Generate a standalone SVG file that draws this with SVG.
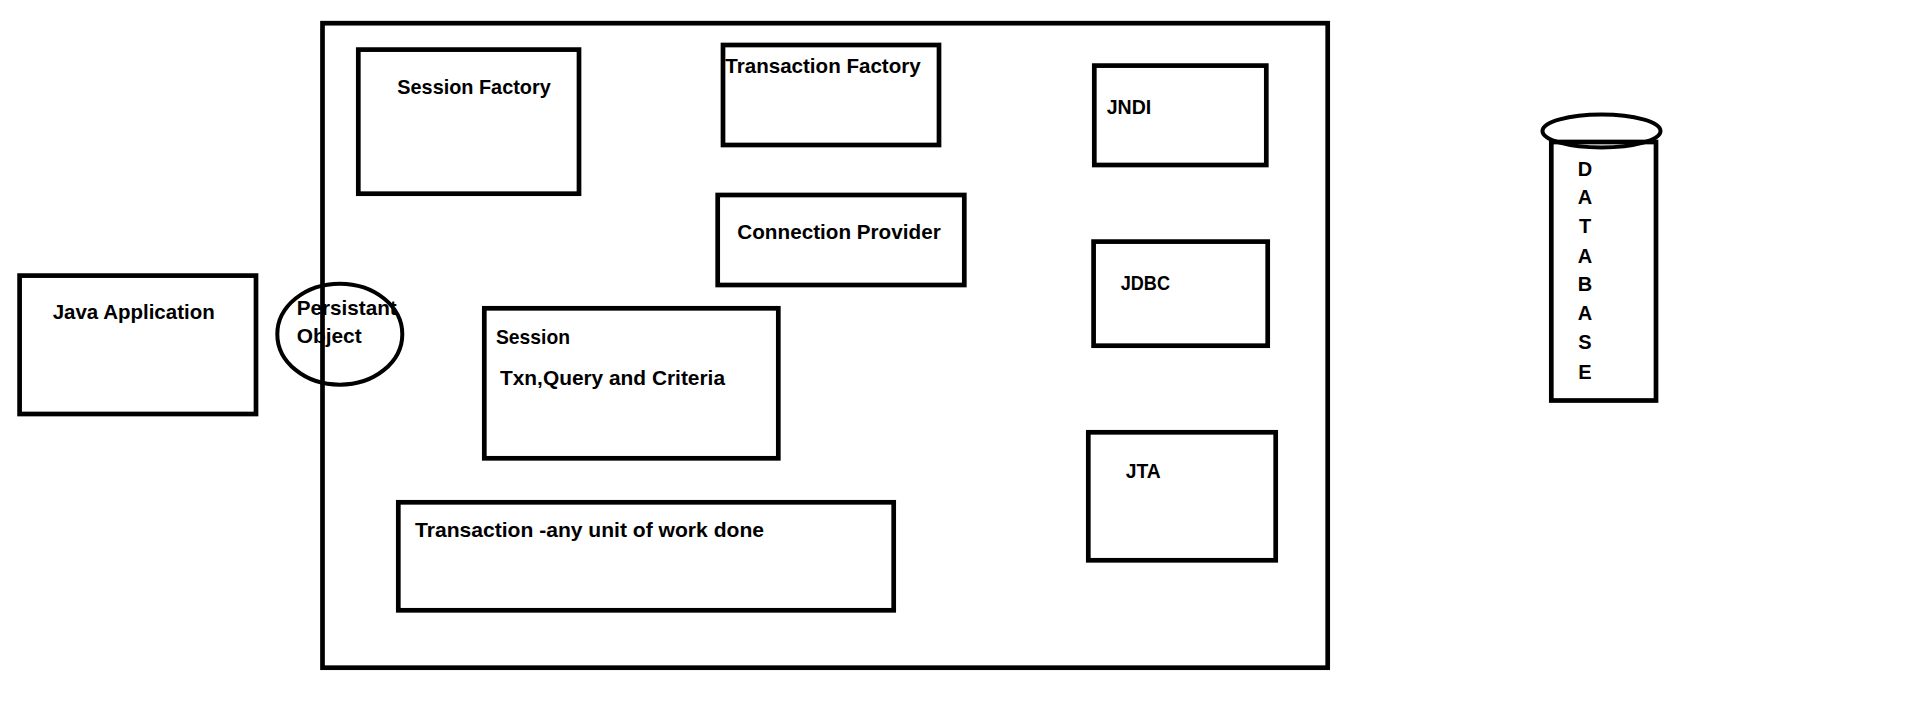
<svg xmlns="http://www.w3.org/2000/svg" width="1914" height="706" viewBox="0 0 1914 706">
<style>
.box{fill:none;stroke:#000;stroke-width:4.7}
.ring{fill:none;stroke:#000;stroke-width:4}
.lbl{font-family:"Liberation Sans",Arial,sans-serif;font-weight:bold;font-size:21px;fill:#000}
.db{font-family:"Liberation Sans",Arial,sans-serif;font-weight:bold;font-size:20px;fill:#000;text-anchor:middle}
</style>
<rect width="1914" height="706" fill="#fff"/>
<g id="java-application">
<rect class="box" x="19.6" y="275.6" width="236.4" height="138.4"/>
<text class="lbl" x="52.7" y="319.3" textLength="162" lengthAdjust="spacingAndGlyphs">Java Application</text>
</g>
<g id="persistant-object">
<text class="lbl" x="296.7" y="315" textLength="100" lengthAdjust="spacingAndGlyphs">Persistant</text>
<text class="lbl" x="296.7" y="343.3" textLength="65" lengthAdjust="spacingAndGlyphs">Object</text>
<ellipse class="ring" cx="339.8" cy="334.2" rx="62.5" ry="50.5"/>
</g>
<g id="hibernate-container">
<rect class="box" x="322.5" y="23.2" width="1005.2" height="644.5"/>
</g>
<g id="session-factory">
<rect class="box" x="358.3" y="49.6" width="220.7" height="144.1"/>
<text class="lbl" x="397.3" y="94" textLength="153.4" lengthAdjust="spacingAndGlyphs">Session Factory</text>
</g>
<g id="transaction-factory">
<rect class="box" x="723" y="45" width="216" height="100"/>
<text class="lbl" x="725.3" y="72.7" textLength="195.4" lengthAdjust="spacingAndGlyphs">Transaction Factory</text>
</g>
<g id="connection-provider">
<rect class="box" x="717.7" y="195" width="246.6" height="90"/>
<text class="lbl" x="737.3" y="239" textLength="203.4" lengthAdjust="spacingAndGlyphs">Connection Provider</text>
</g>
<g id="session">
<rect class="box" x="484.3" y="308.3" width="294" height="150"/>
<text class="lbl" x="496" y="344" textLength="74" lengthAdjust="spacingAndGlyphs">Session</text>
<text class="lbl" x="500" y="385" textLength="225" lengthAdjust="spacingAndGlyphs">Txn,Query and Criteria</text>
</g>
<g id="transaction">
<rect class="box" x="398.3" y="502.3" width="495.4" height="108"/>
<text class="lbl" x="415" y="536.7" textLength="349" lengthAdjust="spacingAndGlyphs">Transaction -any unit of work done</text>
</g>
<g id="jndi">
<rect class="box" x="1094.3" y="65.6" width="172" height="99.4"/>
<text class="lbl" x="1106.7" y="114" textLength="44.6" lengthAdjust="spacingAndGlyphs">JNDI</text>
</g>
<g id="jdbc">
<rect class="box" x="1093.6" y="241.6" width="174.1" height="104.1"/>
<text class="lbl" x="1120.7" y="290" textLength="49.3" lengthAdjust="spacingAndGlyphs">JDBC</text>
</g>
<g id="jta">
<rect class="box" x="1088.3" y="432.3" width="187.4" height="128"/>
<text class="lbl" x="1125.7" y="477.7" textLength="35" lengthAdjust="spacingAndGlyphs">JTA</text>
</g>
<g id="database">
<rect class="box" x="1551.3" y="142" width="104.7" height="258.5"/>
<ellipse class="ring" cx="1601.5" cy="131" rx="59" ry="16.5"/>
<text class="db" x="1585" y="176">D</text>
<text class="db" x="1585" y="204.3">A</text>
<text class="db" x="1585" y="233.3">T</text>
<text class="db" x="1585" y="262.7">A</text>
<text class="db" x="1585" y="291">B</text>
<text class="db" x="1585" y="320">A</text>
<text class="db" x="1585" y="349">S</text>
<text class="db" x="1585" y="379">E</text>
</g>
<g id="connectors"/>
</svg>
